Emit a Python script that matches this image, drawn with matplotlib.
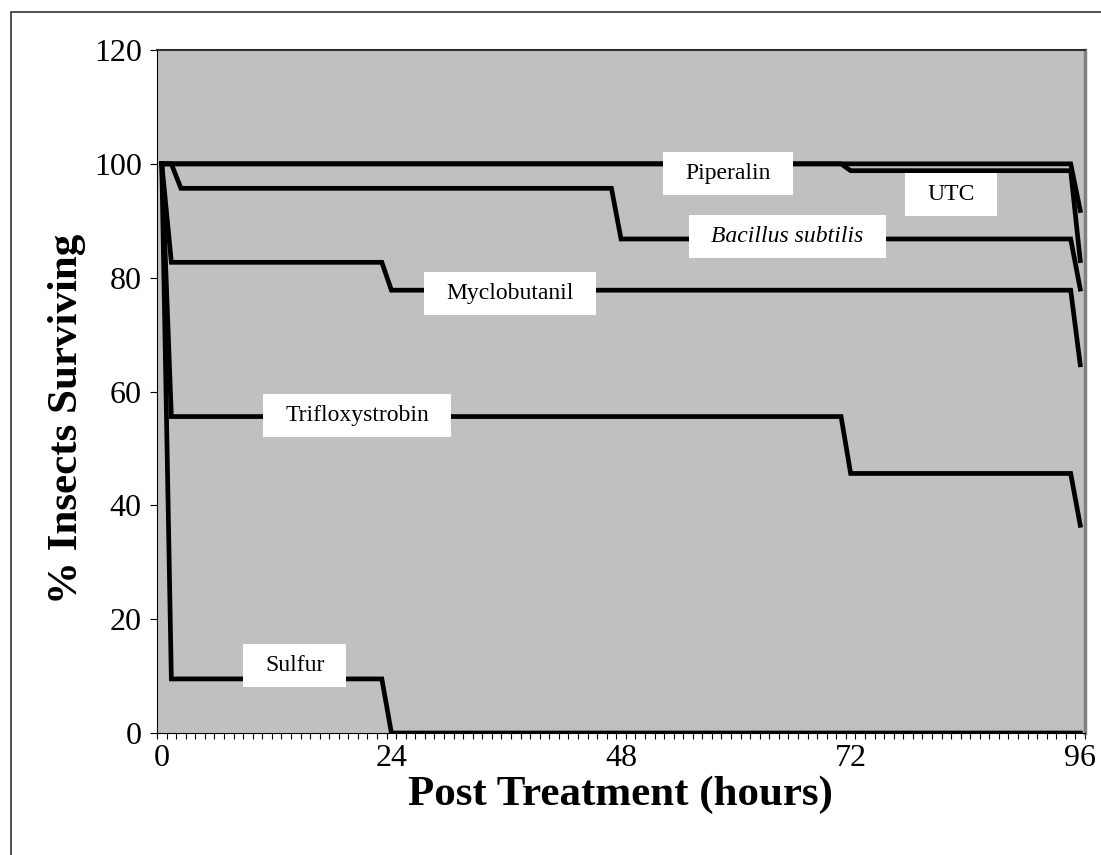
import matplotlib
matplotlib.use("Agg")
import matplotlib.pyplot as plt
from matplotlib.patches import Rectangle

plt.rcParams["font.family"] = ["Liberation Serif", "DejaVu Serif"]

# hours at which each curve changes, and % surviving at those hours
piperalin_h = [0, 95, 96]
piperalin_v = [100, 100, 91.8]
utc_h = [0, 71, 72, 95, 96]
utc_v = [100, 100, 98.8, 98.8, 83]
bacillus_h = [0, 1, 2, 47, 48, 95, 96]
bacillus_v = [100, 100, 95.7, 95.7, 86.8, 86.8, 78]
myclo_h = [0, 1, 23, 24, 95, 96]
myclo_v = [100, 82.7, 82.7, 77.8, 77.8, 64.7]
triflox_h = [0, 1, 71, 72, 95, 96]
triflox_v = [100, 55.6, 55.6, 45.6, 45.6, 36.5]
sulfur_h = [0, 1, 23, 24, 96]
sulfur_v = [100, 9.5, 9.5, 0, 0]

series = [
    (piperalin_h, piperalin_v),
    (utc_h, utc_v),
    (bacillus_h, bacillus_v),
    (myclo_h, myclo_v),
    (triflox_h, triflox_v),
    (sulfur_h, sulfur_v),
]

# label text, position (hours, %), italic?
labels = [
    ("Piperalin", 59.2, 98.3, False),
    ("UTC", 82.5, 94.7, False),
    ("Bacillus subtilis", 65.4, 87.3, True),
    ("Myclobutanil", 36.4, 77.3, False),
    ("Trifloxystrobin", 20.4, 55.7, False),
    ("Sulfur", 13.9, 11.9, False),
]

x_ticks = [0, 24, 48, 72, 96]
y_ticks = [0, 20, 40, 60, 80, 100, 120]

fig = plt.figure(figsize=(11.01, 8.55), dpi=100)
ax = fig.add_axes([0.1426, 0.1427, 0.8429, 0.7988])
ax.set_facecolor("#c0c0c0")

for h, v in series:
    ax.plot(h, v, color="black", lw=3.4, solid_joinstyle="miter", zorder=3)

ax.set_xlim(-0.5, 96.5)
ax.set_ylim(0, 120)

texts = []
for text, x, y, it in labels:
    t = ax.text(x, y, text, ha="center", va="center", fontsize=17,
                style="italic" if it else "normal", zorder=5)
    texts.append(t)

# white boxes behind the labels, wider than tall like the original
fig.canvas.draw()
renderer = fig.canvas.get_renderer()
inv = ax.transData.inverted()
for t in texts:
    bb = t.get_window_extent(renderer)
    (x0, y0), (x1, y1) = inv.transform([(bb.x0 - 22, bb.y0 - 11),
                                        (bb.x1 + 22, bb.y1 + 11)])
    ax.add_patch(Rectangle((x0, y0), x1 - x0, y1 - y0, facecolor="white",
                           edgecolor="none", zorder=4))

ax.set_xticks(x_ticks)
ax.set_xticklabels([str(t) for t in x_ticks])
ax.set_xticks([i - 0.5 for i in range(98)], minor=True)
ax.tick_params(axis="x", which="major", length=0, pad=8, labelsize=23)
ax.tick_params(axis="x", which="minor", length=4.5, width=0.8, direction="out")
ax.set_yticks(y_ticks)
ax.tick_params(axis="y", length=5, width=0.8, pad=6, labelsize=23)

ax.spines["left"].set_color("black")
ax.spines["bottom"].set_color("black")
ax.spines["top"].set_color("#303030")
ax.spines["top"].set_linewidth(1.5)
ax.spines["right"].set_color("#808080")
ax.spines["right"].set_linewidth(2.5)

ax.set_xlabel("Post Treatment (hours)", fontsize=31, fontweight="bold")
ax.set_ylabel("% Insects Surviving", fontsize=31, fontweight="bold")
ax.xaxis.set_label_coords(0.499, -0.062)
ax.yaxis.set_label_coords(-0.076, 0.46)

# outer chart frame
fig.patches.append(Rectangle((11 / 1101, -0.1), 1.2, 1.1 - 12 / 855,
                             transform=fig.transFigure, fill=False,
                             edgecolor="#333333", lw=1.2))

fig.savefig("out.png", dpi=100)
